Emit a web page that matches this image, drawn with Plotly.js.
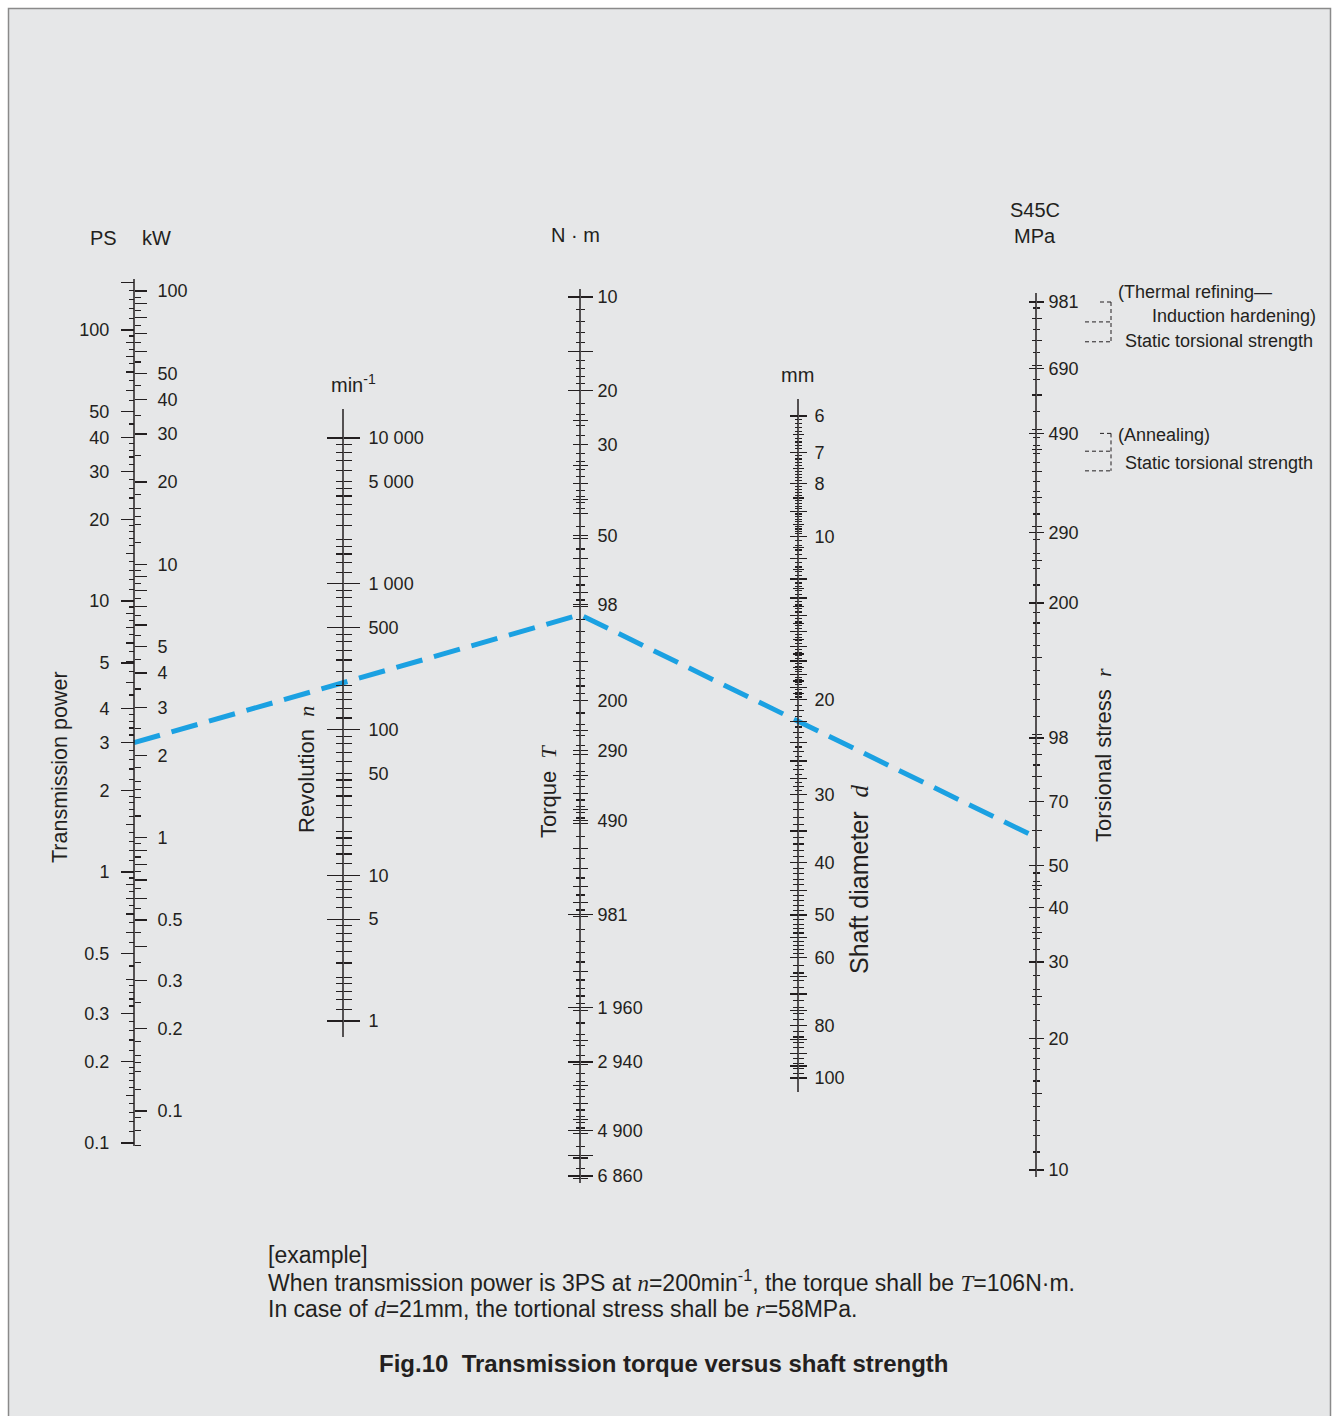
<!DOCTYPE html>
<html><head><meta charset="utf-8">
<script src="https://cdn.plot.ly/plotly-3.0.1.min.js"></script>
<style>html,body{margin:0;padding:0;background:#fff}#chart{width:1332px;height:1416px}</style>
</head><body><div id="chart"></div>
<script>
const W = 1332, H = 1416;

// ---------------- data ----------------
// tick label texts and the scale values at which they sit
const psLabelText  = ['100', '50', '40', '30', '20', '10', '5', '4', '3', '2', '1', '0.5', '0.3', '0.2', '0.1'];
const psLabelVals  = [100, 50, 40, 30, 20, 10, 5.9, 4, 3, 2, 1, 0.5, 0.3, 0.2, 0.1];
const kwLabelText  = ['100', '50', '40', '30', '20', '10', '5', '4', '3', '2', '1', '0.5', '0.3', '0.2', '0.1'];
const kwLabelVals  = [100, 50, 40, 30, 20, 10, 5, 4, 3, 2, 1, 0.5, 0.3, 0.2, 0.1];
const revLabelVals = [10000, 5000, 1000, 500, 100, 50, 10, 5, 1];
const revLabelText = ['10 000', '5 000', '1 000', '500', '100', '50', '10', '5', '1'];
const torqueLabelVals = [10, 20, 30, 58.8, 98, 200, 290, 490, 981, 1960, 2940, 4900, 6860];
const torqueLabelText = ['10', '20', '30', '50', '98', '200', '290', '490', '981', '1 960', '2 940', '4 900', '6 860'];
const diamLabelVals = [6, 7, 8, 10, 20, 30, 40, 50, 60, 80, 100];
const diamLabelText = ['6', '7', '8', '10', '20', '30', '40', '50', '60', '80', '100'];
const stressLabelVals = [981, 690, 490, 290, 200, 98, 70, 50, 40, 30, 20, 10];
const stressLabelText = ['981', '690', '490', '290', '200', '98', '70', '50', '40', '30', '20', '10'];
// example reading
const examplePowerPS = 3;
const exampleRev = 200;
const exampleTorque = 106;
const exampleDiam = 21;
const exampleStress = 58;
// static torsional strength bands of S45C (MPa)
const thermalBand = [981, 883, 795];
const annealBand  = [490, 446, 402];

// ---------------- styles ----------------
const INK = '#231f20';
const SANS = 'Liberation Sans, Arial, Helvetica, sans-serif';
const SERIF_I = 'font-family:Liberation Serif,Times New Roman,serif;font-style:italic';
const TICKFONT = {family: SANS, size: 18, color: INK};

// scale calibration (pixel layout of each vertical scale)
const scales = {
  ps:  {x: 134,  top: 279, bottom: 1146, v1: 100,   y1: 330, v2: 0.1,  y2: 1143},
  kw:  {x: 134,  top: 279, bottom: 1146, v1: 100,   y1: 291, v2: 0.1,  y2: 1111},
  rev: {x: 343,  top: 409, bottom: 1037, v1: 10000, y1: 438, v2: 1,    y2: 1021},
  tq:  {x: 580,  top: 289, bottom: 1183, v1: 10,    y1: 297, v2: 6860, y2: 1176},
  dia: {x: 798,  top: 399, bottom: 1092, v1: 6,     y1: 416, v2: 100,  y2: 1078},
  st:  {x: 1036, top: 293, bottom: 1177, v1: 981,   y1: 302, v2: 10,   y2: 1170}
};

function cal(s) {
  const l1 = Math.log10(s.v1), l2 = Math.log10(s.v2);
  const k = (l2 - l1) / (s.y2 - s.y1);
  const logAt = y => l1 + (y - s.y1) * k;
  const pixOf = v => s.y1 + (Math.log10(v) - l1) / k;
  const a = Math.pow(10, logAt(s.top)), b = Math.pow(10, logAt(s.bottom));
  return {range: [logAt(H), logAt(0)], pos: s.x / W, fy: v => 1 - pixOf(v) / H,
          lo: Math.min(a, b), hi: Math.max(a, b)};
}
function gen(mants, lo, hi) {
  const out = [];
  for (let e = -3; e <= 5; e++) for (const m of mants) {
    const v = parseFloat((m * Math.pow(10, e)).toPrecision(8));
    if (v >= lo && v <= hi) out.push(v);
  }
  return out;
}
function minus(a, ...bs) {
  return a.filter(v => !bs.some(b => b.some(w => Math.abs(w / v - 1) < 1e-6)));
}
function seq(a, b, st) { const o = []; for (let v = a; v <= b + 1e-9; v += st) o.push(parseFloat(v.toFixed(4))); return o; }

const layout = {
  width: W, height: H,
  margin: {l: 0, r: 0, t: 0, b: 0, pad: 0},
  paper_bgcolor: '#ffffff', plot_bgcolor: 'rgba(0,0,0,0)',
  showlegend: false,
  xaxis: {range: [0, 1], visible: false, fixedrange: true},
  yaxis: {range: [0, 1], visible: false, fixedrange: true},
  shapes: [], annotations: []
};
const traces = [];
let axN = 1;

function baseAxis(c, side) {
  return {type: 'log', overlaying: 'y', anchor: 'free', position: c.pos, side: side,
          range: c.range, autorange: false, showline: false, showgrid: false, zeroline: false,
          fixedrange: true, tickmode: 'array'};
}
function addTicks(sc, side, vals, len, minorVals, minorLen) {
  axN++;
  const c = cal(sc);
  const ax = baseAxis(c, side);
  Object.assign(ax, {tickvals: vals, ticktext: vals.map(() => ''), showticklabels: false,
    ticks: 'outside', ticklen: len, tickwidth: 1.2, tickcolor: INK});
  if (minorVals && minorVals.length) {
    ax.minor = {tickmode: 'array', tickvals: minorVals, ticks: 'outside', ticklen: minorLen,
                tickwidth: 1.1, tickcolor: INK, showgrid: false};
  }
  layout['yaxis' + axN] = ax;
  traces.push({x: [0.5], y: [vals[0]], xaxis: 'x', yaxis: 'y' + axN, mode: 'none', hoverinfo: 'skip', showlegend: false});
}
function addLabels(sc, side, vals, text, offset) {
  axN++;
  const c = cal(sc);
  const ax = baseAxis(c, side);
  Object.assign(ax, {tickvals: vals, ticktext: text, showticklabels: true,
    ticks: 'outside', ticklen: offset, tickwidth: 1, tickcolor: 'rgba(0,0,0,0)',
    tickfont: TICKFONT});
  layout['yaxis' + axN] = ax;
  traces.push({x: [0.5], y: [vals[0]], xaxis: 'x', yaxis: 'y' + axN, mode: 'none', hoverinfo: 'skip', showlegend: false});
}
function addLine(sc) {
  layout.shapes.push({type: 'line', xref: 'paper', yref: 'paper',
    x0: sc.x / W, x1: sc.x / W, y0: 1 - sc.bottom / H, y1: 1 - sc.top / H,
    line: {color: INK, width: 1.5}});
}
function crossScale(sc, labels, text, labelOffset, longV, L, medV, M, smallV, S) {
  addLine(sc);
  addTicks(sc, 'left', longV, L, medV, M);
  addTicks(sc, 'right', longV, L, medV, M);
  if (smallV && smallV.length) {
    addTicks(sc, 'left', smallV, S);
    addTicks(sc, 'right', smallV, S);
  }
  addLabels(sc, 'right', labels, text, labelOffset);
}

// background panel & frame
layout.shapes.push({type: 'rect', xref: 'paper', yref: 'paper', layer: 'below',
  x0: 8.5 / W, x1: 1330.5 / W, y0: 1 - 1420 / H, y1: 1 - 8.5 / H,
  fillcolor: '#e6e7e8', line: {color: '#8a8a8a', width: 1.5}});

// ---- Power scale: PS (left) / kW (right) ----
{
  const sc = scales.ps, c = cal(sc);
  addLine(sc);
  const longV = psLabelVals.concat([150]);
  const medV = minus(gen([1.5, 4, 5, 6, 7, 8, 9], c.lo, c.hi), longV);
  const smallV = minus(gen([1.1, 1.2, 1.3, 1.4, 1.6, 1.7, 1.8, 1.9, 2.2, 2.4, 2.6, 2.8, 3.2, 3.4, 3.6, 3.8, 4.5, 5.5, 6.5, 7.5, 8.5, 9.5], c.lo, c.hi), longV, medV);
  addTicks(sc, 'left', longV, 13, medV, 8);
  addTicks(sc, 'left', smallV, 5);
  addLabels(sc, 'left', psLabelVals, psLabelText, 21);
  const sk = scales.kw, ck = cal(sk);
  const kLong = gen([1, 2, 3, 4, 5, 6, 7, 8, 9], 0.1, 100);
  const kSmall = minus(gen([1.2, 1.4, 1.5, 1.6, 1.8, 2.5, 3.5, 4.5, 5.5, 6.5, 7.5, 8.5, 9.5], ck.lo, ck.hi), kLong);
  addTicks(sk, 'right', kLong, 12, kSmall, 6);
  addLabels(sk, 'right', kwLabelVals, kwLabelText, 19);
}

// ---- Revolution ----
{
  const sc = scales.rev;
  const longV = [10000, 1000, 500, 100, 10, 5, 1];
  const medV = minus(gen([1.2, 1.4, 1.6, 1.8, 2, 2.5, 3, 3.5, 4, 4.5, 5, 6, 7, 8, 9], 1, 10000), longV);
  crossScale(sc, revLabelVals, revLabelText, 21, longV, 16, medV, 7.5, null, 0);
}

// ---- Torque ----
{
  const sc = scales.tq;
  const longV = [10, 15, 20, 981, 1960, 2940, 4900, 5880, 6860];
  const medV = minus(torqueLabelVals.concat(gen([1, 1.5, 2, 2.5, 3, 3.5, 4, 4.5, 5, 6, 7, 8, 9], 10, 7000)), longV);
  const smallV = minus(gen([1.1, 1.2, 1.3, 1.4, 1.6, 1.7, 1.8, 1.9, 2.2, 2.4, 2.6, 2.8, 3.2, 3.4, 3.6, 3.8, 4.2, 4.4, 4.6, 4.8, 5.5, 6.5, 7.5, 8.5, 9.5], 10, 7000), longV, medV);
  crossScale(sc, torqueLabelVals, torqueLabelText, 13, longV, 12, medV, 7, smallV, 4);
}

// ---- Shaft diameter ----
{
  const sc = scales.dia;
  const longV = seq(6, 20, 1).concat([22, 24, 26, 28, 30], seq(35, 100, 5));
  const medV = minus(seq(6.5, 19.5, 1).concat(seq(21, 29, 2), seq(31, 59, 1), seq(62, 98, 2)), longV);
  const smallV = minus(seq(6.1, 9.9, 0.1).concat(seq(10.2, 19.8, 0.2), seq(20.5, 29.5, 1)), longV, medV);
  crossScale(sc, diamLabelVals, diamLabelText, 12, longV, 8, medV, 5, smallV, 3);
}

// ---- Torsional stress ----
{
  const sc = scales.st;
  const longV = stressLabelVals.slice();
  const medV = minus(gen([1, 1.5, 2, 2.5, 3, 3.5, 4, 4.5, 5, 6, 7, 8, 9], 10, 990), longV);
  const smallV = minus(gen([1.1, 1.2, 1.3, 1.4, 1.6, 1.7, 1.8, 1.9, 2.2, 2.4, 2.6, 2.8, 3.2, 3.4, 3.6, 3.8, 4.2, 4.4, 4.6, 4.8, 5.5, 6.5, 7.5, 8.5, 9.5], 10, 990), longV, medV);
  crossScale(sc, stressLabelVals, stressLabelText, 8, longV, 7, medV, 4.5, smallV, 3);
}

// ---- example reading line ----
{
  const cp = cal(scales.ps), ct = cal(scales.tq), cs = cal(scales.st);
  traces.push({
    x: [cp.pos, ct.pos, cs.pos],
    y: [cp.fy(examplePowerPS), ct.fy(exampleTorque), cs.fy(exampleStress)],
    xaxis: 'x', yaxis: 'y', mode: 'lines', hoverinfo: 'skip', showlegend: false,
    line: {color: '#1ba1e2', width: 5, dash: '27px,12px'}
  });
}

// ---- strength bracket marks ----
{
  const cs = cal(scales.st);
  const dl = {color: INK, width: 1, dash: '4px,3px'};
  [thermalBand, annealBand].forEach(b => {
    layout.shapes.push({type: 'line', xref: 'paper', yref: 'paper', x0: 1100 / W, x1: 1111 / W, y0: cs.fy(b[0]), y1: cs.fy(b[0]), line: dl});
    layout.shapes.push({type: 'line', xref: 'paper', yref: 'paper', x0: 1085 / W, x1: 1111 / W, y0: cs.fy(b[1]), y1: cs.fy(b[1]), line: dl});
    layout.shapes.push({type: 'line', xref: 'paper', yref: 'paper', x0: 1085 / W, x1: 1111 / W, y0: cs.fy(b[2]), y1: cs.fy(b[2]), line: dl});
    layout.shapes.push({type: 'line', xref: 'paper', yref: 'paper', x0: 1111 / W, x1: 1111 / W, y0: cs.fy(b[0]), y1: cs.fy(b[2]), line: dl});
  });
}

// ---- text ----
function ann(text, px, py, o) {
  layout.annotations.push(Object.assign({text: text, x: px / W, y: 1 - py / H, xref: 'paper', yref: 'paper',
    showarrow: false, xanchor: 'center', yanchor: 'middle',
    font: {family: SANS, size: 20, color: INK}}, o || {}));
}
const it = s => '<span style="' + SERIF_I + '">' + s + '</span>';
const NB = '\u00a0';

ann('PS', 103, 238);
ann('kW', 156, 238);
ann('min<sup>-1</sup>', 353, 384);
ann('N' + NB + '·' + NB + 'm', 575, 235);
ann('mm', 797, 375);
ann('S45C', 1035, 210);
ann('MPa', 1035, 236);

const rot = sz => ({textangle: -90, font: {family: SANS, size: sz, color: INK}});
ann('Transmission power', 60, 767, rot(21.5));
ann('Revolution' + NB + NB + it('n'), 307, 770, rot(22));
ann('Torque' + NB + NB + it('T'), 548, 791, rot(22));
ann('Shaft diameter' + NB + NB + it('d'), 859, 880, rot(25));
ann('Torsional stress' + NB + NB + it('r'), 1103, 755, rot(22));

const note = {xanchor: 'left', font: {family: SANS, size: 18, color: INK}};
ann('(Thermal refining—', 1116, 292, note);
ann('Induction hardening)', 1150, 316, note);
ann('Static torsional strength', 1123, 341, note);
ann('(Annealing)', 1116, 435, note);
ann('Static torsional strength', 1123, 463, note);

const ex = {xanchor: 'left', font: {family: SANS, size: 23, color: INK}};
ann('[example]', 266, 1255, ex);
ann('When transmission power is ' + examplePowerPS + 'PS at ' + it('n') + '=' + exampleRev + 'min<sup>-1</sup>, the torque shall be ' + it('T') + '=' + exampleTorque + 'N·m.', 266, 1281, ex);
ann('In case of ' + it('d') + '=' + exampleDiam + 'mm, the tortional stress shall be ' + it('r') + '=' + exampleStress + 'MPa.', 266, 1309, ex);
ann('<b>Fig.10' + NB + NB + 'Transmission torque versus shaft strength</b>', 663, 1363, {font: {family: SANS, size: 24, color: INK}});

Plotly.newPlot('chart', traces, layout, {staticPlot: true, displayModeBar: false});
</script>
</body></html>
